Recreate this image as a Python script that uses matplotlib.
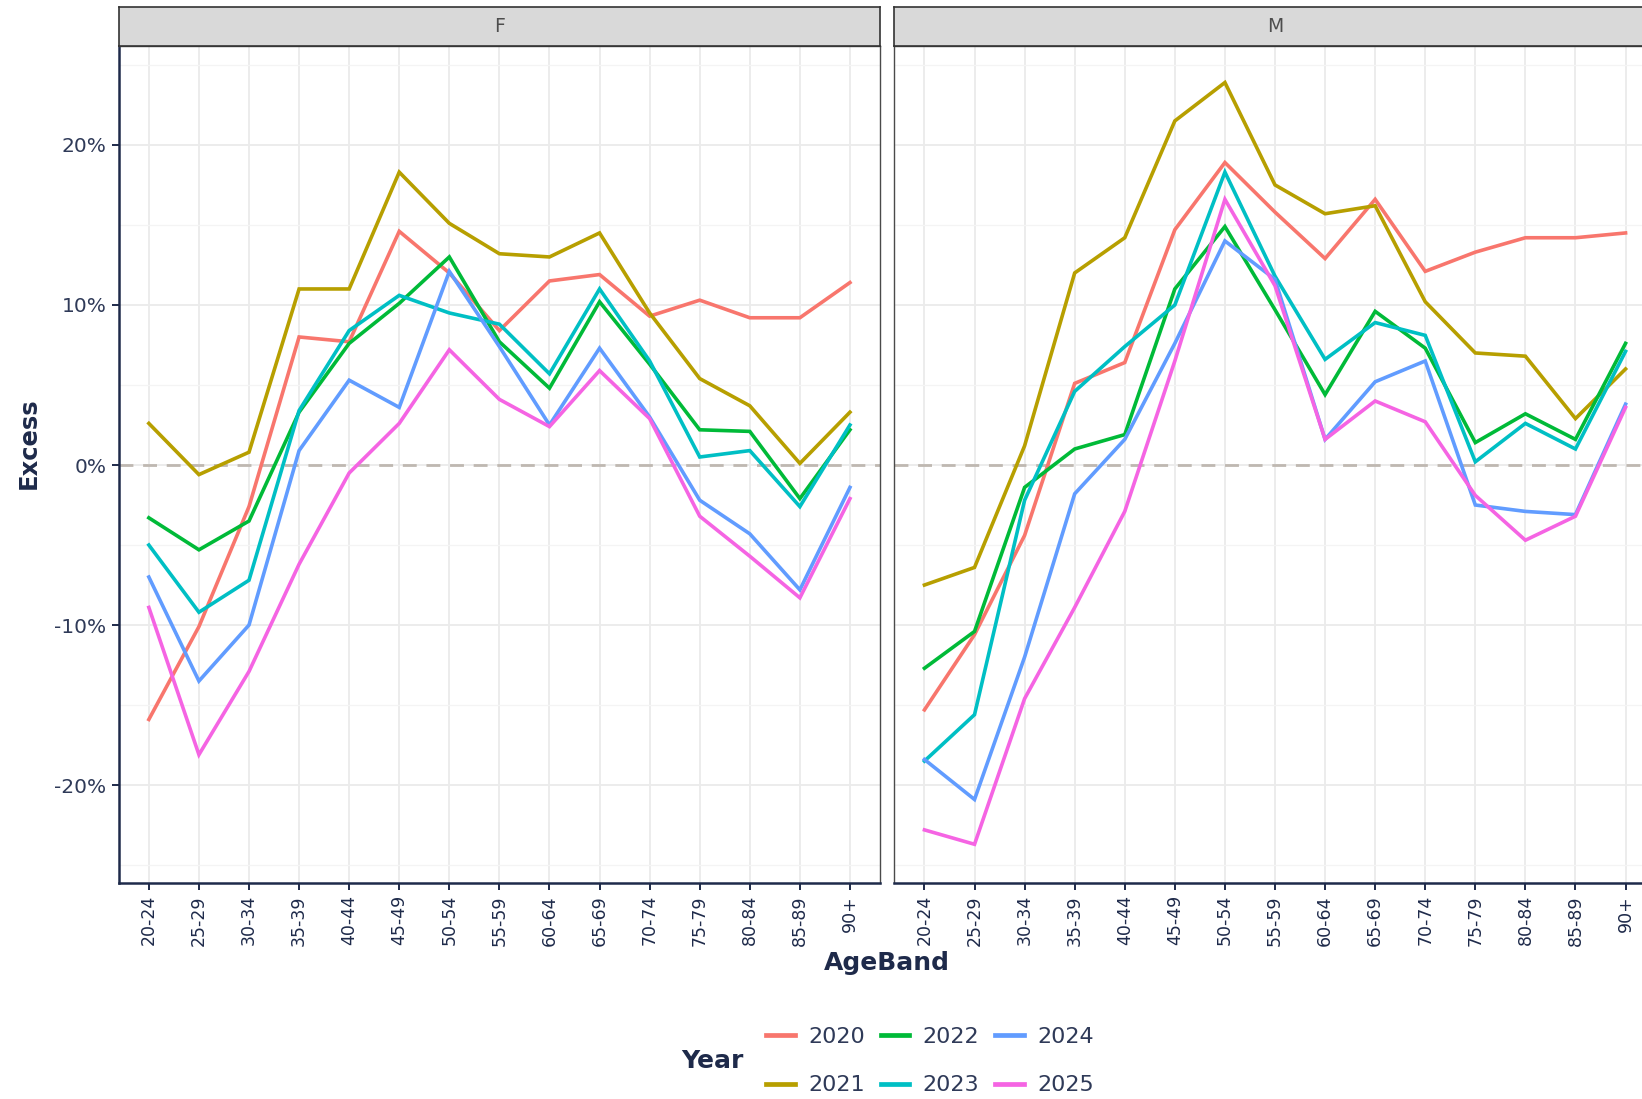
import matplotlib
matplotlib.use("Agg")
import matplotlib.pyplot as plt
from matplotlib.lines import Line2D
from matplotlib.ticker import FixedLocator, FuncFormatter

plt.rcParams["font.family"] = ["DejaVu Sans"]

# ---- data -------------------------------------------------------------
age_bands = ["20-24", "25-29", "30-34", "35-39", "40-44", "45-49", "50-54",
             "55-59", "60-64", "65-69", "70-74", "75-79", "80-84", "85-89", "90+"]
years = ["2020", "2021", "2022", "2023", "2024", "2025"]
year_colors = ["#F8766D", "#B79F00", "#00BA38", "#00BFC4", "#619CFF", "#F564E3"]

# Excess mortality (%) by age band, females
f_2020 = [-15.9, -10.1, -2.6, 8.0, 7.7, 14.6, 12.0, 8.4, 11.5, 11.9, 9.3, 10.3, 9.2, 9.2, 11.4]
f_2021 = [2.6, -0.6, 0.8, 11.0, 11.0, 18.3, 15.1, 13.2, 13.0, 14.5, 9.5, 5.4, 3.7, 0.1, 3.3]
f_2022 = [-3.3, -5.3, -3.5, 3.3, 7.6, 10.1, 13.0, 7.7, 4.8, 10.2, 6.3, 2.2, 2.1, -2.1, 2.2]
f_2023 = [-5.0, -9.2, -7.2, 3.4, 8.4, 10.6, 9.5, 8.8, 5.7, 11.0, 6.5, 0.5, 0.9, -2.6, 2.5]
f_2024 = [-7.0, -13.5, -10.0, 0.9, 5.3, 3.6, 12.1, 7.4, 2.5, 7.3, 3.0, -2.2, -4.3, -7.8, -1.4]
f_2025 = [-8.9, -18.1, -12.9, -6.2, -0.5, 2.6, 7.2, 4.1, 2.4, 5.9, 2.9, -3.2, -5.7, -8.3, -2.1]

# Excess mortality (%) by age band, males
m_2020 = [-15.3, -10.6, -4.4, 5.1, 6.4, 14.7, 18.9, 15.8, 12.9, 16.6, 12.1, 13.3, 14.2, 14.2, 14.5]
m_2021 = [-7.5, -6.4, 1.2, 12.0, 14.2, 21.5, 23.9, 17.5, 15.7, 16.2, 10.2, 7.0, 6.8, 2.9, 6.0]
m_2022 = [-12.7, -10.4, -1.4, 1.0, 1.9, 11.0, 14.9, 9.7, 4.4, 9.6, 7.3, 1.4, 3.2, 1.6, 7.6]
m_2023 = [-18.5, -15.6, -2.2, 4.6, 7.4, 10.0, 18.3, 11.8, 6.6, 8.9, 8.1, 0.2, 2.6, 1.0, 7.1]
m_2024 = [-18.4, -20.9, -12.0, -1.8, 1.6, 7.6, 14.0, 11.6, 1.6, 5.2, 6.5, -2.5, -2.9, -3.1, 3.8]
m_2025 = [-22.8, -23.7, -14.6, -8.9, -2.9, 6.5, 16.6, 11.2, 1.6, 4.0, 2.7, -1.9, -4.7, -3.2, 3.6]

panels = [("F", [f_2020, f_2021, f_2022, f_2023, f_2024, f_2025]),
          ("M", [m_2020, m_2021, m_2022, m_2023, m_2024, m_2025])]

# ---- styling ----------------------------------------------------------
NAVY = "#1E2A4A"
GRID = "#EBEBEB"
W, H = 1642, 1099

fig = plt.figure(figsize=(W / 100, H / 100), dpi=100)
fig.patch.set_facecolor("white")

def fx(px):
    return px / W

def fy(py):
    return 1 - py / H

panel_left = [118.8, 894.4]
panel_w = 761.2
panel_top, panel_bot = 45.7, 882.7
strip_top = 7.3

ymin, ymax = -26.1, 26.2
x = list(range(len(age_bands)))

for i, (label, series) in enumerate(panels):
    ax = fig.add_axes([fx(panel_left[i]), fy(panel_bot), fx(panel_w),
                       (panel_bot - panel_top) / H])
    ax.set_facecolor("white")
    ax.set_xlim(-0.6, len(age_bands) - 1 + 0.6)
    ax.set_ylim(ymin, ymax)

    ax.yaxis.set_major_locator(FixedLocator([-20, -10, 0, 10, 20]))
    ax.yaxis.set_minor_locator(FixedLocator([-25, -15, -5, 5, 15, 25]))
    ax.set_xticks(x)
    ax.set_xticklabels(age_bands, rotation=90, fontsize=12.5, color=NAVY)
    ax.grid(True, which="major", axis="both", color=GRID, linewidth=1.3, zorder=0)
    ax.grid(True, which="minor", axis="y", color="#F4F4F4", linewidth=0.9, zorder=0)
    ax.set_axisbelow(True)

    ax.axhline(0, color="#BFB8B1", linewidth=2.0, linestyle=(0, (5, 3.5)), zorder=1)

    for vals, col in zip(series, year_colors):
        ax.plot(x, vals, color=col, linewidth=2.6, solid_joinstyle="miter", zorder=3)

    for side in ["top", "right", "left"]:
        ax.spines[side].set_color("#4A4A4A")
        ax.spines[side].set_linewidth(1.0)
    ax.spines["bottom"].set_color(NAVY)
    ax.spines["bottom"].set_linewidth(1.8)
    ax.tick_params(axis="x", which="major", length=5, width=1.4, color=NAVY, pad=4)
    ax.tick_params(axis="y", which="minor", length=0)

    if i == 0:
        ax.spines["left"].set_color(NAVY)
        ax.spines["left"].set_linewidth(1.8)
        ax.yaxis.set_major_formatter(FuncFormatter(lambda v, p: f"{v:.0f}%"))
        ax.tick_params(axis="y", which="major", length=5, width=1.4, color=NAVY,
                       labelsize=14.5, labelcolor="#2F3A58", pad=4)
    else:
        ax.tick_params(axis="y", which="major", length=0, labelleft=False)

    # facet strip
    sax = fig.add_axes([fx(panel_left[i]), fy(panel_top), fx(panel_w),
                        (panel_top - strip_top) / H])
    sax.set_facecolor("#D9D9D9")
    sax.set_xticks([])
    sax.set_yticks([])
    for sp in sax.spines.values():
        sp.set_color("#333333")
        sp.set_linewidth(1.2)
    sax.text(0.5, 0.5, label, ha="center", va="center", fontsize=13.5,
             color="#4D4D4D", transform=sax.transAxes)

# axis titles
fig.text(fx(29), fy(443), "Excess", rotation=90, ha="center", va="center",
         fontsize=17.5, fontweight="bold", color=NAVY)
fig.text(fx(887), fy(963), "AgeBand", ha="center", va="center",
         fontsize=18, fontweight="bold", color=NAVY)

# legend
handles = [Line2D([], [], color=c, linewidth=3.4) for c in year_colors]
fig.legend(handles, years, ncol=3, loc="center",
           bbox_to_anchor=(fx(930), fy(1061)), frameon=False,
           fontsize=16, labelcolor="#2F3A58", handlelength=1.3,
           handletextpad=0.6, columnspacing=0.7, labelspacing=1.3)
fig.text(fx(712), fy(1061), "Year", ha="center", va="center",
         fontsize=18, fontweight="bold", color=NAVY)

fig.savefig("out.png", dpi=100, facecolor="white")
